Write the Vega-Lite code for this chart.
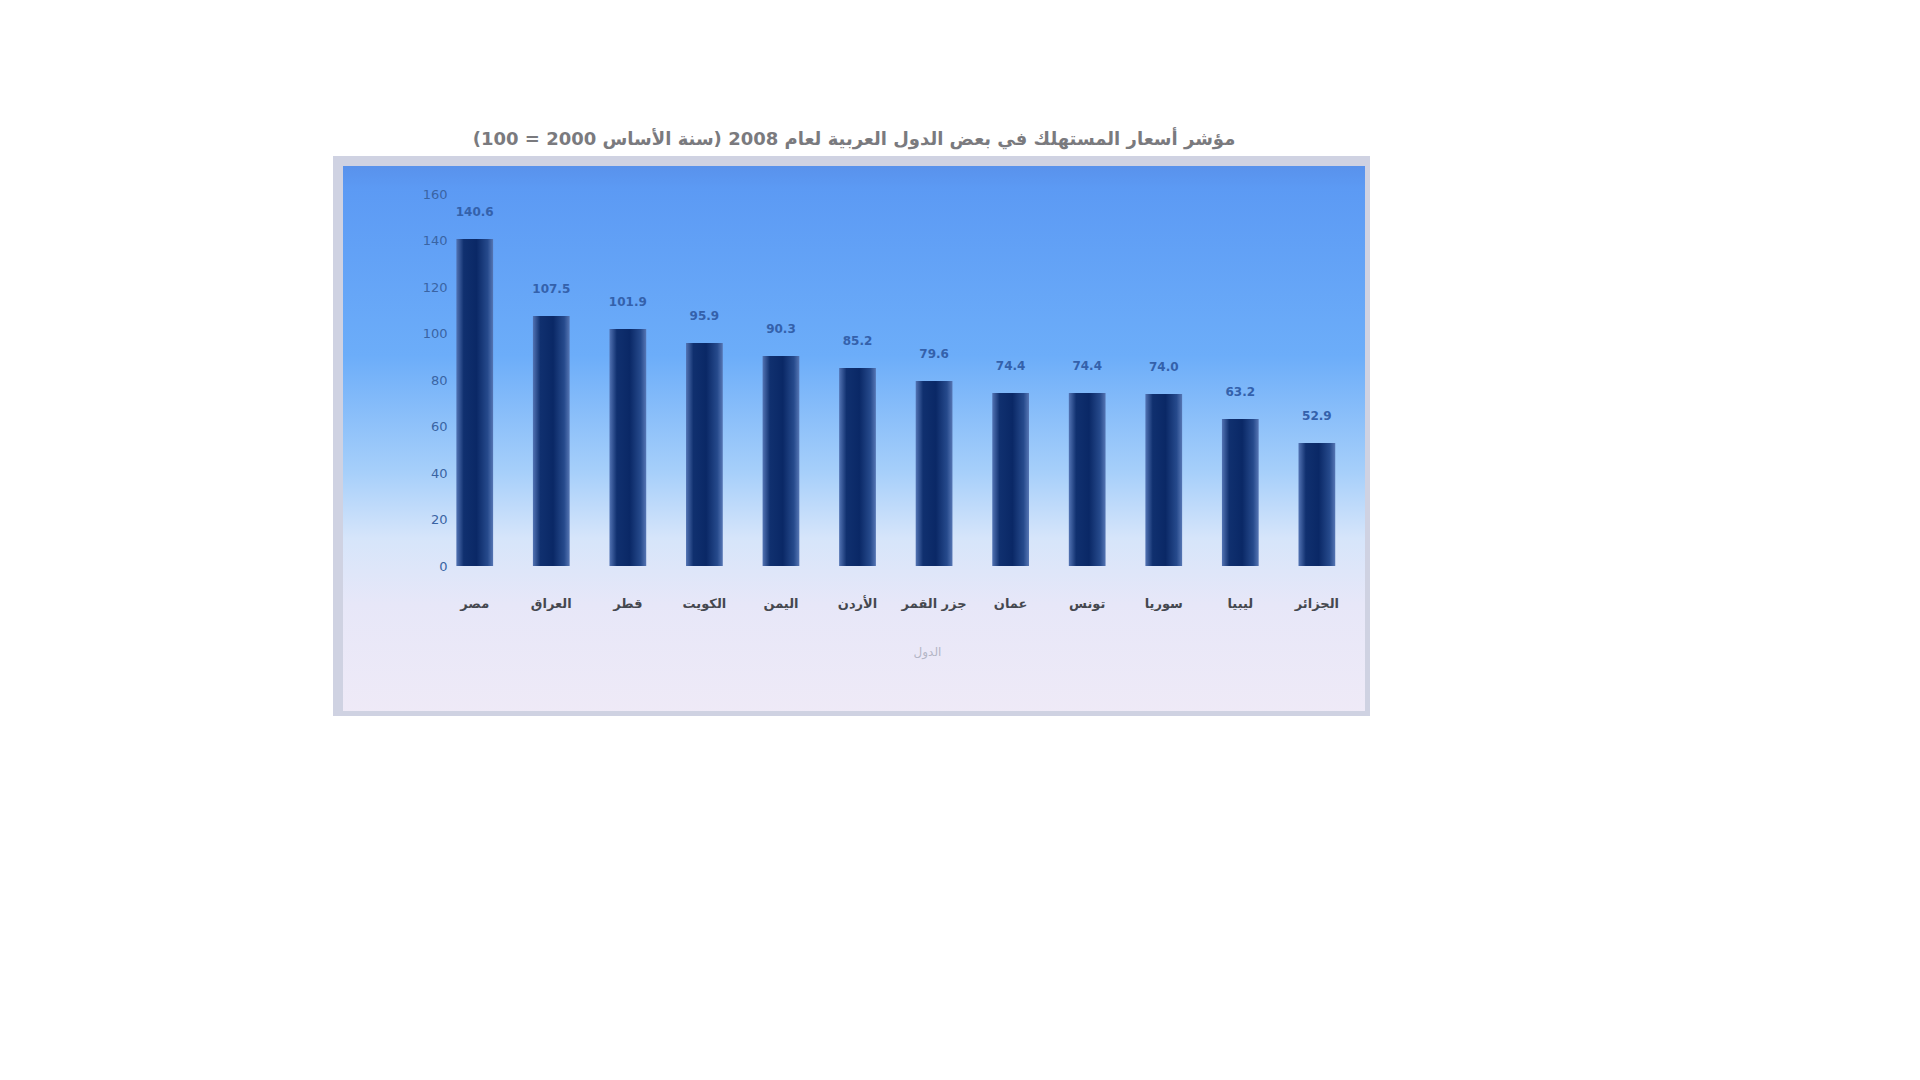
{
  "$schema": "https://vega.github.io/schema/vega-lite/v6.json",
  "width": 1032,
  "height": 555,
  "autosize": {"type": "none"},
  "padding": {"left": 338, "top": 161, "right": 0, "bottom": 0},
  "background": "#ffffff",
  "title": {
    "text": "مؤشر أسعار المستهلك في بعض الدول العربية لعام 2008 (سنة الأساس 2000 = 100)",
    "anchor": "middle",
    "frame": "group",
    "offset": 12,
    "font": "DejaVu Sans",
    "fontSize": 18,
    "fontWeight": "bold",
    "color": "#7a7a7e"
  },
  "data": {
    "values": [
      {"country": "مصر", "value": 140.6},
      {"country": "العراق", "value": 107.5},
      {"country": "قطر", "value": 101.9},
      {"country": "الكويت", "value": 95.9},
      {"country": "اليمن", "value": 90.3},
      {"country": "الأردن", "value": 85.2},
      {"country": "جزر القمر", "value": 79.6},
      {"country": "عمان", "value": 74.4},
      {"country": "تونس", "value": 74.4},
      {"country": "سوريا", "value": 74.0},
      {"country": "ليبيا", "value": 63.2},
      {"country": "الجزائر", "value": 52.9}
    ]
  },
  "encoding": {
    "x": {
      "field": "country",
      "type": "nominal",
      "sort": null,
      "scale": {"paddingInner": 0.52, "paddingOuter": 1.331, "align": 0.773},
      "axis": {
        "orient": "bottom",
        "offset": -150,
        "ticks": false,
        "domain": false,
        "labelPadding": 31,
        "labelAngle": 0,
        "labelFont": "DejaVu Sans",
        "labelFontSize": 13,
        "labelFontWeight": "bold",
        "labelColor": "#45484f",
        "title": "الدول",
        "titleFont": "DejaVu Sans",
        "titleFontSize": 12,
        "titleFontWeight": "normal",
        "titleColor": "#b4b6c6",
        "titlePadding": 36,
        "titleX": 589
      }
    }
  },
  "layer": [
    {
      "mark": {
        "type": "bar",
        "color": {
          "gradient": "linear",
          "x1": 0, "y1": 0, "x2": 1, "y2": 0,
          "stops": [
            {"offset": 0, "color": "#5273b3"},
            {"offset": 0.2, "color": "#10306f"},
            {"offset": 0.55, "color": "#0a2866"},
            {"offset": 0.85, "color": "#264a8c"},
            {"offset": 1, "color": "#5676b4"}
          ]
        }
      },
      "encoding": {
        "y": {
          "field": "value",
          "type": "quantitative",
          "scale": {"domain": [-64.5, 174.2], "nice": false, "zero": false},
          "axis": {
            "orient": "left",
            "offset": -113,
            "values": [0, 20, 40, 60, 80, 100, 120, 140, 160],
            "domain": false,
            "ticks": false,
            "grid": false,
            "labelPadding": 4,
            "labelFont": "DejaVu Sans",
            "labelFontSize": 13,
            "labelColor": "#3a64a3",
            "title": null
          }
        },
        "y2": {"datum": 0}
      }
    },
    {
      "mark": {
        "type": "text",
        "baseline": "middle",
        "dy": -27,
        "font": "DejaVu Sans",
        "fontSize": 12,
        "fontWeight": "bold",
        "color": "#3461ab"
      },
      "encoding": {
        "y": {"field": "value", "type": "quantitative"},
        "text": {"field": "value", "type": "quantitative", "format": ".1f"}
      }
    }
  ],
  "config": {
    "view": {
      "fill": {
        "gradient": "linear",
        "x1": 0, "y1": 0, "x2": 0, "y2": 1,
        "stops": [
          {"offset": 0, "color": "#5890ea"},
          {"offset": 0.05, "color": "#5c9af4"},
          {"offset": 0.35, "color": "#6cadf9"},
          {"offset": 0.56, "color": "#a6cffa"},
          {"offset": 0.68, "color": "#d6e5fa"},
          {"offset": 0.8, "color": "#e7e7f8"},
          {"offset": 1, "color": "#efeaf7"}
        ]
      },
      "stroke": "#cfd2e2",
      "strokeWidth": 10
    }
  }
}
